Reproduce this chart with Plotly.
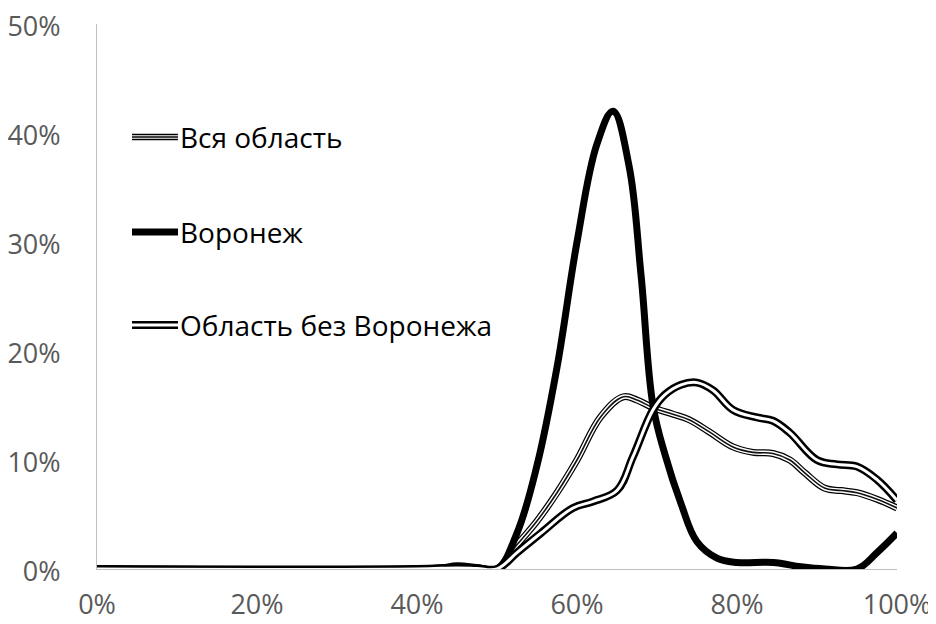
import plotly.graph_objects as go

# ---- data (x in %, y in %) ----
region_x = [0, 40, 45, 47.5, 50, 52, 55, 57.5, 60, 63, 65.8, 67.5, 69.5, 72, 74, 76.5, 79.5, 82, 84.5, 86.6, 88.5, 91, 93, 95, 97.5, 100]
region_y = [0, 0, 0.15, 0.1, 0, 1.8, 4.4, 7, 10, 14, 15.8, 15.5, 14.8, 14.2, 13.7, 12.6, 11.2, 10.7, 10.6, 10.0, 8.8, 7.4, 7.2, 7.0, 6.4, 5.6]

voronezh_x = [0, 40, 43, 45, 47.5, 50, 52.5, 55, 57.5, 60, 62.5, 64.5, 66.5, 68, 69.5, 71, 73, 75, 77.5, 80, 84.5, 88, 91, 95, 97.5, 100]
voronezh_y = [0, 0, 0.1, 0.3, 0.15, 0, 3.3, 9.5, 18.5, 30, 39, 42, 37, 27, 15, 10.5, 6, 2.5, 1.0, 0.6, 0.6, 0.2, 0, 0, 1.5, 3.3]

rest_x = [0, 40, 45, 47.5, 50, 52.5, 55.5, 59.5, 62, 65, 67, 69.5, 71, 73, 75, 77, 79.5, 82.5, 84.5, 86.6, 90, 92.5, 95, 97.5, 100]
rest_y = [0, 0, 0.1, 0.05, 0, 1.5, 3.3, 5.6, 6.2, 7.2, 10.3, 14.6, 16.0, 16.9, 17.1, 16.4, 14.6, 13.9, 13.6, 12.5, 10.0, 9.6, 9.4, 8.2, 6.3]

series_names = ["Вся область", "Воронеж", "Область без Воронежа"]
x_ticks = [0, 0.2, 0.4, 0.6, 0.8, 1.0]
y_ticks = [0, 0.1, 0.2, 0.3, 0.4, 0.5]

def pct(a):
    return [v / 100 for v in a]

fig = go.Figure()

def add_layer(xs, ys, color, width):
    fig.add_trace(go.Scatter(
        x=pct(xs), y=pct(ys), mode="lines",
        line=dict(color=color, width=width, shape="spline", smoothing=1.1),
        hoverinfo="skip", showlegend=False, cliponaxis=False))

# Вся область: triple line
add_layer(region_x, region_y, "#000000", 7)
add_layer(region_x, region_y, "#ffffff", 4.5)
add_layer(region_x, region_y, "#111111", 1.6)
# Воронеж: thick black
add_layer(voronezh_x, voronezh_y, "#000000", 7)
# Область без Воронежа: double line
add_layer(rest_x, rest_y, "#000000", 8)
add_layer(rest_x, rest_y, "#ffffff", 3)

# ---- custom legend ----
leg_y = [0.7927, 0.6183, 0.4477]
lx0, lx1 = (132 - 97) / 800, (178 - 97) / 800
styles = [
    [("#000000", 6.5), ("#ffffff", 3.5), ("#444444", 1.8)],
    [("#000000", 7)],
    [("#000000", 8), ("#ffffff", 3)],
]
for name, yy, st in zip(series_names, leg_y, styles):
    for col, w in st:
        fig.add_shape(type="line", xref="paper", yref="paper",
                      x0=lx0, x1=lx1, y0=yy, y1=yy,
                      line=dict(color=col, width=w))
    fig.add_annotation(xref="paper", yref="paper", x=(178 - 97) / 800, y=yy,
                       text=name, showarrow=False, xanchor="left", yanchor="middle",
                       font=dict(family="Open Sans", size=28, color="#000000"))

# page body has an 8px margin, so the figure is 8px smaller to fit the window
fig.update_layout(
    width=928, height=616,
    margin=dict(l=89, r=39, t=16, b=55),
    paper_bgcolor="white", plot_bgcolor="white",
    showlegend=False,
    font=dict(family="Open Sans", size=27, color="#595959"),
)
fig.update_xaxes(range=[0, 1], tickvals=x_ticks, tickformat=".0%",
                 showgrid=False, zeroline=False, showline=True, automargin=False,
                 linecolor="#bfbfbf", linewidth=1, ticks="",
                 ticklabeloverflow="allow",
                 ticklabelstandoff=12, tickfont=dict(size=27, color="#595959"))
fig.update_yaxes(range=[0, 0.5], tickvals=y_ticks, tickformat=".0%",
                 showgrid=False, zeroline=False, showline=True, automargin=False,
                 linecolor="#bfbfbf", linewidth=1, ticks="",
                 ticklabeloverflow="allow", ticklabelshift=3,
                 ticklabelstandoff=30, tickfont=dict(size=27, color="#595959"))

fig.write_html("out.html")
